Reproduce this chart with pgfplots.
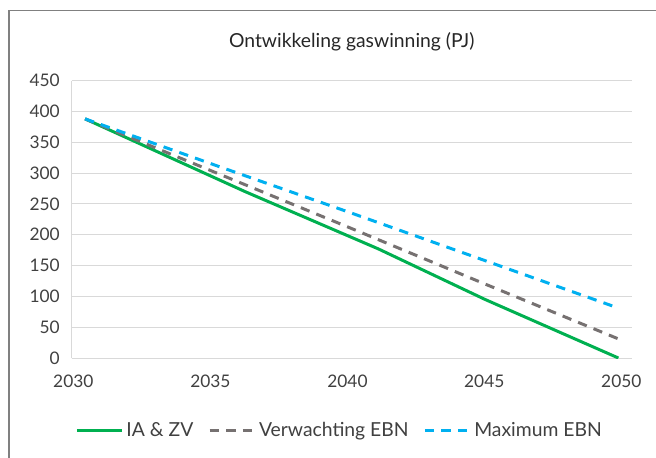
\documentclass[border=0pt]{standalone}
\usepackage{fontspec}
\setmainfont{Lato}
\usepackage{pgfplots}
\pgfplotsset{compat=1.18}

\definecolor{iagreen}{RGB}{0,176,80}
\definecolor{ebngray}{RGB}{118,113,113}
\definecolor{ebnblue}{RGB}{0,176,240}
\definecolor{gridgray}{RGB}{217,217,217}
\definecolor{txtgray}{RGB}{64,64,64}
\definecolor{framegray}{RGB}{128,128,128}

\begin{document}
\begin{tikzpicture}
% page = 656x457 px at 0.75pt/px, axis origin at plot's lower left
\path[use as bounding box] (-53.8pt,-74.25pt) rectangle (438.2pt,268.5pt);
% chart frame, cut off by the page at right and bottom
\draw[framegray, line width=1.1pt] (-47pt,-85pt) -- (-47pt,260.5pt) -- (480pt,260.5pt);
\begin{axis}[
    at={(0,0)}, anchor=south west,
    scale only axis,
    width=420pt, height=208pt,
    xmin=2029.5, xmax=2050.5,
    ymin=0, ymax=450,
    xtick={2029.56,2034.70,2039.84,2044.97,2050.11},
    xticklabels={2030,2035,2040,2045,2050},
    ytick={0,50,...,450},
    ymajorgrids,
    grid style={gridgray, line width=0.75pt},
    axis x line*=bottom, axis y line*=left,
    axis line style={draw=gridgray, line width=0.75pt, -},
    major tick length=0pt,
    tick style={draw=none},
    /pgf/number format/assume math mode=true,
    tick label style={font=\fontsize{13}{15}\selectfont, text=txtgray},
    xticklabel style={yshift=-9.5pt},
    yticklabel style={xshift=-5.5pt},
    title={Ontwikkeling gaswinning (PJ)},
    title style={at={(0.5,1)}, anchor=center, yshift=23pt,
        font=\fontsize{14.5}{17}\selectfont, text=black!85},
    legend style={at={(0.479,-0.262)}, anchor=center, draw=none,
        font=\fontsize{14.5}{17}\selectfont, text=txtgray,
        /tikz/every even column/.append style={column sep=9pt}},
    legend columns=3,
    legend image code/.code={\draw[#1] (0pt,0pt) -- (34pt,0pt);},
]
\addplot[iagreen, line width=2.25pt] coordinates {
    (2030,388) (2036,270) (2041,177) (2045,95) (2050,0)};
\addlegendentry{IA \& ZV}
\addplot[ebngray, line width=2.25pt, dash pattern=on 7pt off 5.5pt] coordinates {
    (2030,388) (2035,299) (2040,210) (2045,120) (2050,31)};
\addlegendentry{Verwachting EBN}
\addplot[ebnblue, line width=2.25pt, dash pattern=on 7pt off 5.5pt] coordinates {
    (2030,388) (2035,311) (2040,235) (2045,158) (2050,81)};
\addlegendentry{Maximum EBN}
\end{axis}
\end{tikzpicture}
\end{document}
